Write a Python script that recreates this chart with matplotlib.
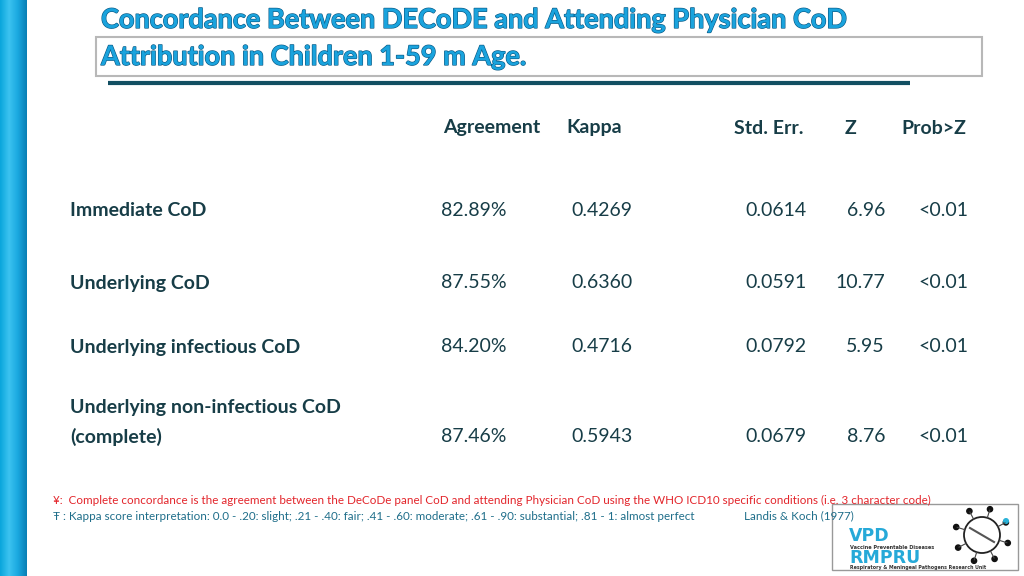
import numpy as np
import matplotlib.pyplot as plt
import matplotlib.patheffects as pe
from matplotlib.colors import LinearSegmentedColormap
from matplotlib.patches import Rectangle, Circle

plt.rcParams['font.family'] = ['Lato', 'DejaVu Sans']

# table contents
row_labels = ['Immediate CoD', 'Underlying CoD', 'Underlying infectious CoD',
              'Underlying non-infectious CoD\n(complete)']
headers = ['Agreement', 'Kappa', 'Std. Err.', 'Z', 'Prob>Z']
agreement = ['82.89%', '87.55%', '84.20%', '87.46%']
kappa = ['0.4269', '0.6360', '0.4716', '0.5943']
std_err = ['0.0614', '0.0591', '0.0792', '0.0679']
z_vals = ['6.96', '10.77', '5.95', '8.76']
prob = ['<0.01', '<0.01', '<0.01', '<0.01']

title1 = 'Concordance Between DECoDE and Attending Physician CoD'
title2 = 'Attribution in Children 1-59 m Age.'
note1 = ('¥:  Complete concordance is the agreement between the DeCoDe panel CoD and attending '
         'Physician CoD using the WHO ICD10 specific conditions (i.e. 3 character code)')
note2 = ('Ŧ : Kappa score interpretation: 0.0 - .20: slight; .21 - .40: fair; .41 - .60: moderate; '
         '.61 - .90: substantial; .81 - 1: almost perfect')
note2_ref = 'Landis & Koch (1977)'

dark = '#173d47'
fs = 14
fig = plt.figure(figsize=(10.24, 5.76), dpi=100)
ax = fig.add_axes([0, 0, 1, 1])

# left blue bar with a little shading
grad = np.linspace(0, 1, 50).reshape(1, -1)
cmap = LinearSegmentedColormap.from_list('b', ['#0aa6dc', '#3cc3f0', '#1aa8e0', '#0a7fb5'])
ax.imshow(grad, extent=(0, 27, 576, 0), cmap=cmap, aspect='auto', zorder=1)
ax.set_xlim(0, 1024)
ax.set_ylim(576, 0)
ax.axis('off')

# title box and underline
ax.add_patch(Rectangle((96, 37), 886, 39, fill=False, ec='#b8b8b8', lw=1.5))
ax.plot([108, 910], [83, 83], color='#124f62', lw=3, solid_capstyle='butt')
outline = [pe.withStroke(linewidth=0.9, foreground='#0b5a85')]
ax.text(101, 20, title1, fontsize=19.5, fontweight='bold', color='#1aa3dd',
        va='center', ha='left', path_effects=outline)
ax.text(101, 57, title2, fontsize=19.5, fontweight='bold', color='#1aa3dd',
        va='center', ha='left', path_effects=outline)

# headers
hdr_x = [443, 566, 734, 845, 901]
for x, h in zip(hdr_x, headers):
    ax.text(x, 128, h, fontsize=fs, fontweight='bold', color=dark, va='center', ha='left')

# rows
row_y = [210, 283, 347, 437]
for i, y in enumerate(row_y):
    if i == 3:
        ax.text(70, 407, 'Underlying non-infectious CoD', fontsize=fs, fontweight='bold',
                color=dark, va='center', ha='left')
        ax.text(70, 437, '(complete)', fontsize=fs, fontweight='bold',
                color=dark, va='center', ha='left')
    else:
        ax.text(70, y, row_labels[i], fontsize=fs, fontweight='bold',
                color=dark, va='center', ha='left')
    ax.text(441, y, agreement[i], fontsize=fs, color=dark, va='center', ha='left')
    ax.text(571, y, kappa[i], fontsize=fs, color=dark, va='center', ha='left')
    ax.text(807, y, std_err[i], fontsize=fs, color=dark, va='center', ha='right')
    ax.text(885, y, z_vals[i], fontsize=fs, color=dark, va='center', ha='right')
    ax.text(968, y, prob[i], fontsize=fs, color=dark, va='center', ha='right')

# footnotes
ax.text(53, 500, note1, fontsize=8.4, color='#e3252b', va='center', ha='left')
ax.text(53, 516, note2, fontsize=8.4, color='#1f6e8a', va='center', ha='left')
ax.text(744, 516, note2_ref, fontsize=8.4, color='#1f6e8a', va='center', ha='left')

# logo
ax.add_patch(Rectangle((832, 504), 186, 66, fill=False, ec='#999999', lw=1))
ax.text(849, 536, 'VPD', fontsize=12.5, fontweight='bold', color='#26a9d8', va='center',
        ha='left', family='DejaVu Sans')
ax.text(850, 547.5, 'Vaccine Preventable Diseases', fontsize=3.6, fontweight='bold',
        color='#333333', va='center', ha='left', family='DejaVu Sans')
ax.text(849, 558, 'RMPRU', fontsize=12.5, fontweight='bold', color='#26a9d8', va='center',
        ha='left', family='DejaVu Sans')
ax.text(850, 567.5, 'Respiratory & Meningeal Pathogens Research Unit', fontsize=3.4,
        fontweight='bold', color='#333333', va='center', ha='left', family='DejaVu Sans')
cx, cy, r = 982, 535, 18
ax.add_patch(Circle((cx, cy), r, fill=False, ec='#222222', lw=1.3))
ang = np.linspace(0, 2 * np.pi, 9)[:-1] + 0.3
for a in ang:
    ax.plot([cx + r * np.cos(a), cx + (r + 8) * np.cos(a)],
            [cy + r * np.sin(a), cy + (r + 8) * np.sin(a)], color='#444444', lw=0.8)
    ax.add_patch(Circle((cx + (r + 9) * np.cos(a), cy + (r + 9) * np.sin(a)), 2.6,
                        color='#111111'))
ax.add_patch(Circle((1006, 521), 2.3, color='#2bb3d9'))
ax.plot([970, 994], [528, 542], color='#555555', lw=1.5)

fig.savefig('out.png', dpi=100)
